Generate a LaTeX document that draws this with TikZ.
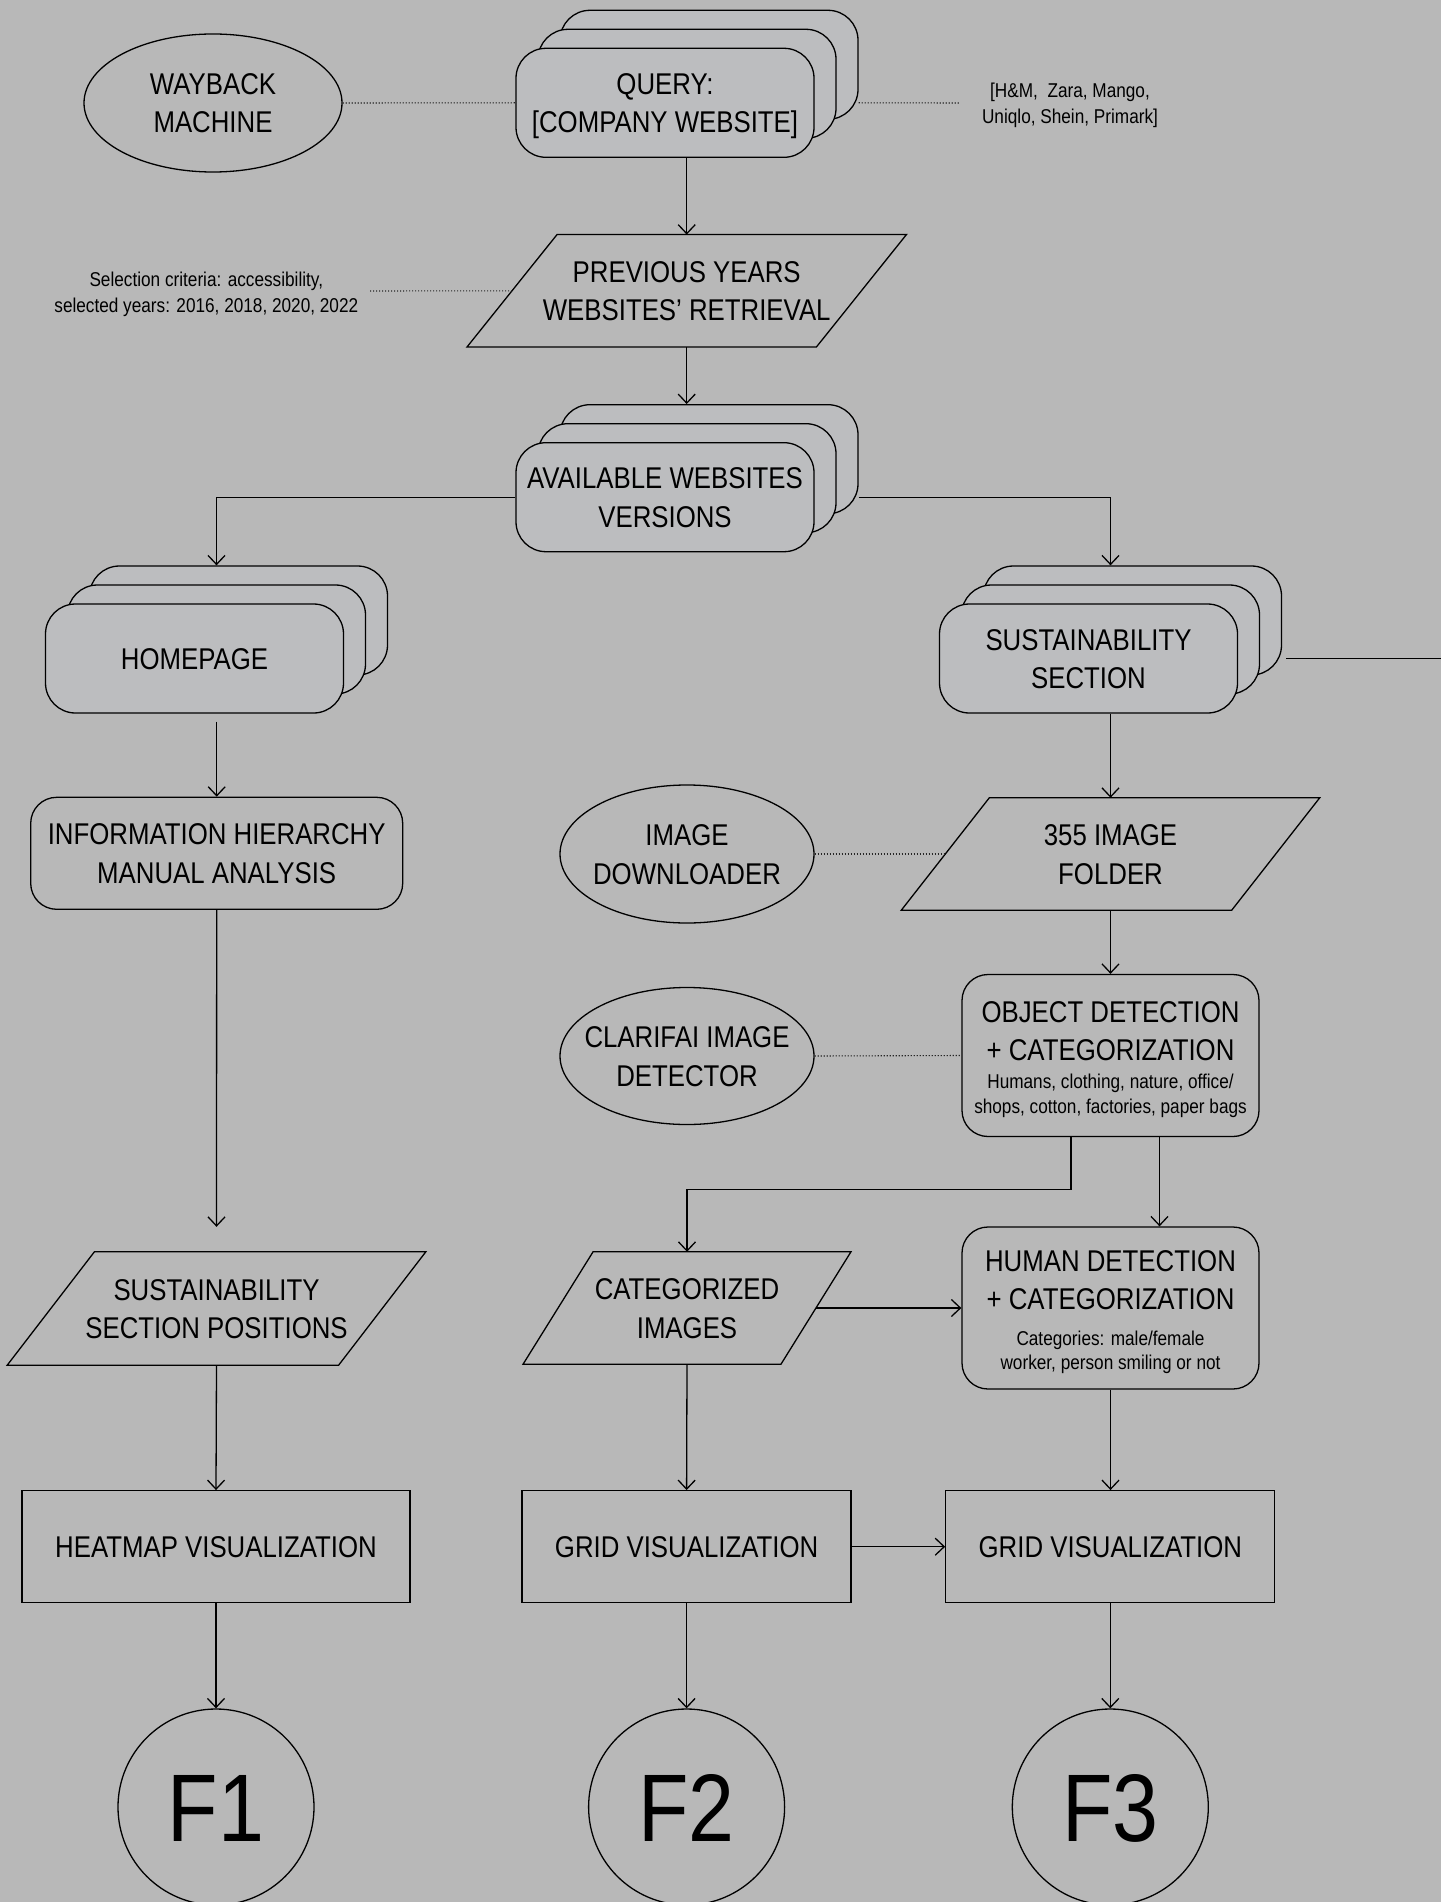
\documentclass[tikz,border=0pt]{standalone}
\usepackage{fontspec}
\setmainfont[FakeStretch=0.86]{Liberation Sans}
\usetikzlibrary{arrows.meta,shapes.geometric,calc}
\definecolor{bgc}{RGB}{184,184,184}
\definecolor{stkc}{RGB}{188,189,191}
\newcommand\fbig{\fontsize{30}{38.5}\selectfont}
\newcommand\fsmall{\fontsize{20}{25.5}\selectfont}
\newcommand\fhugeF{\fontsize{96}{100}\selectfont}
\newcommand\parashape[2]{\draw[shp] ([xshift=#2pt]#1.north west) -- ([xshift=#2pt]#1.north east) -- ([xshift=-#2pt]#1.south east) -- ([xshift=-#2pt]#1.south west) -- cycle;}
\newcommand\stackbox[5]{%
  \node[stk] (#1-b) at (#2+44,#3-38) {};
  \node[stk] (#1-m) at (#2+22,#3-19) {};
  \node[stk,#5] (#1) at (#2,#3) {#4};}
\begin{document}
\begin{tikzpicture}[x=1pt,y=-1pt,
  shp/.style={draw=black, line width=1.3pt},
  bigt/.style={font=\fbig, align=center, text height=21.5pt, text depth=0pt, inner sep=0pt},
  bigtt/.style={font=\fbig, align=center, text height=60pt, text depth=0pt, inner sep=0pt},
  smalltt/.style={font=\fsmall, align=center, text height=39.8pt, text depth=0pt, inner sep=0pt},
  stk/.style={shp, rectangle, rounded corners=30pt, fill=stkc, minimum width=298pt, minimum height=109pt, inner sep=0pt},
  rbox/.style={shp, rectangle, rounded corners=26pt, inner sep=0pt},
  sbox/.style={shp, rectangle, inner sep=0pt, minimum height=112pt},
  ell/.style={shp, ellipse, inner sep=0pt},
  para/.style={rectangle, inner sep=0pt, minimum height=112pt},
  fcirc/.style={shp, circle, minimum size=196pt, inner sep=0pt, font=\fhugeF, text height=68.7pt, text depth=0pt},
  arr/.style={line width=1.3pt, -{Straight Barb[length=9pt,width=17pt]}},
  lin/.style={line width=1.3pt},
  dotln/.style={line width=1.1pt, black!85, dash pattern=on 1.2pt off 1.8pt},
  bline/.style={anchor=base, inner sep=0pt}
]
\path[use as bounding box, fill=bgc] (0,0) rectangle (1441,1902);

% stacked boxes
\stackbox{query}{665}{102.8}{QUERY:\\{[COMPANY WEBSITE]}}{bigtt}
\stackbox{avail}{665}{497.2}{AVAILABLE WEBSITES\\VERSIONS}{bigtt}
\stackbox{home}{194.5}{658.5}{HOMEPAGE}{bigt}
\stackbox{sust}{1088.5}{658.5}{SUSTAINABILITY\\SECTION}{bigtt}

% ellipses
\node[ell, minimum width=258pt, minimum height=138pt] (way) at (213,103) {};
\node[bigtt] (wayt) at (way) {WAYBACK\\MACHINE};
\node[ell, minimum width=254pt, minimum height=138pt] (imgdl) at (687,854) {};
\node[bigtt] (imgdlt) at (imgdl) {IMAGE\\DOWNLOADER};
\node[ell, minimum width=254pt, minimum height=137pt] (clar) at (687,1056) {};
\node[bigtt] (clart) at (clar) {CLARIFAI IMAGE\\DETECTOR};

% parallelograms
\node[para, bigtt, minimum width=349pt] (prev) at (686.7,290.8) {PREVIOUS YEARS\\WEBSITES’ RETRIEVAL};
\parashape{prev}{45}
\node[para, bigtt, minimum width=331pt, minimum height=113pt] (spos) at (216.5,1308.5) {SUSTAINABILITY\\SECTION POSITIONS};
\parashape{spos}{43.6}
\node[para, bigtt, minimum width=330pt] (folder) at (1110.5,854) {355 IMAGE\\FOLDER};
\parashape{folder}{44}
\node[para, bigtt, minimum width=257.5pt] (cat) at (687,1308) {CATEGORIZED\\IMAGES};
\parashape{cat}{35}

% rounded boxes
\node[rbox, bigtt, minimum width=372pt, minimum height=112pt] (info) at (216.7,853.3) {INFORMATION HIERARCHY\\MANUAL ANALYSIS};
\node[rbox, minimum width=297pt, minimum height=162pt] (obj) at (1110.5,1055.5) {};
\node[font=\fbig, bline] (objl1) at (1110.5,1022.3) {OBJECT DETECTION};
\node[font=\fbig, bline] (objl2) at (1110.5,1060) {+ CATEGORIZATION};
\node[font=\fsmall, bline] (objl3) at (1110.5,1088.3) {Humans, clothing, nature, office/};
\node[font=\fsmall, bline] (objl4) at (1110.5,1113.3) {shops, cotton, factories, paper bags};
\node[rbox, minimum width=297pt, minimum height=162pt] (human) at (1110.5,1308) {};
\node[font=\fbig, bline] (huml1) at (1110.5,1271.7) {HUMAN DETECTION};
\node[font=\fbig, bline] (huml2) at (1110.5,1309.3) {+ CATEGORIZATION};
\node[font=\fsmall, bline] (huml3) at (1110.5,1345) {Categories: male/female};
\node[font=\fsmall, bline] (huml4) at (1110.5,1369.3) {worker, person smiling or not};

% rectangles
\node[sbox, bigt, minimum width=388pt, minimum height=112pt] (heat) at (216,1546.7) {HEATMAP VISUALIZATION};
\node[sbox, bigt, minimum width=329pt, minimum height=112pt] (grid1) at (686.6,1546.7) {GRID VISUALIZATION};
\node[sbox, bigt, minimum width=329pt, minimum height=112pt] (grid2) at (1110.3,1546.7) {GRID VISUALIZATION};

% circles
\node[fcirc] (f1) at (216,1807) {F1};
\node[fcirc] (f2) at (686.6,1807) {F2};
\node[fcirc] (f3) at (1110.3,1807) {F3};

% notes
\node[smalltt] (brands) at (1070,103.6) {[H\&M,\ \ Zara, Mango,\\Uniqlo, Shein, Primark]};
\node[smalltt] (crit) at (206.3,292.5) {Selection criteria: accessibility,\\selected years: 2016, 2018, 2020, 2022};

\coordinate (brandsdot) at (960,103);
\coordinate (critdot) at (370,291);
\coordinate (rightend) at (1441,659);

% dotted links
\draw[dotln] (way.east) -- (query.west);
\draw[dotln] (query-b.east |- query.east) -- (brandsdot);
\draw[dotln] (critdot) -- (prev.west);
\draw[dotln] (imgdl.east) -- (folder.west);
\draw[dotln] (clar.east) -- (obj.west);

% connectors
\draw[arr] (query.south -| prev.north) -- (prev.north);
\draw[arr] (prev.south) -- (prev.south |- avail-b.north);
\draw[arr] (avail.west) -| (home-m.center |- home-b.north);
\draw[arr] (avail.east -| avail-b.east) -| (sust-m.center |- sust-b.north);
\draw[lin] ($(sust-b.east |- sust.east)+(4,0)$) -- (sust.east -| rightend);
\draw[arr] ($(home.south -| info.north)+(0,8)$) -- (info.north);
\draw[arr] (info.south) -- ($(spos.north)+(0,-25)$);
\draw[arr] (spos.south) -- (heat.north);
\draw[arr] (heat.south) -- (f1.north);
\draw[arr] (sust.south -| folder.north) -- (folder.north);
\draw[arr] (folder.south) -- (obj.north);
\draw[arr] ($(obj.south)+(-39.5,0)$) -- ++(0,52.6) -| (cat.north);
\draw[arr] ($(obj.south)+(49,0)$) coordinate (o2) -- (o2 |- human.north);
\draw[arr] (cat.east) -- (human.west);
\draw[arr] (cat.south) -- (grid1.north);
\draw[arr] (grid1.east) -- (grid2.west);
\draw[arr] (human.south) -- (human.south |- grid2.north);
\draw[arr] (grid1.south) -- (f2.north);
\draw[arr] (grid2.south) -- (f3.north);
\end{tikzpicture}
\end{document}
